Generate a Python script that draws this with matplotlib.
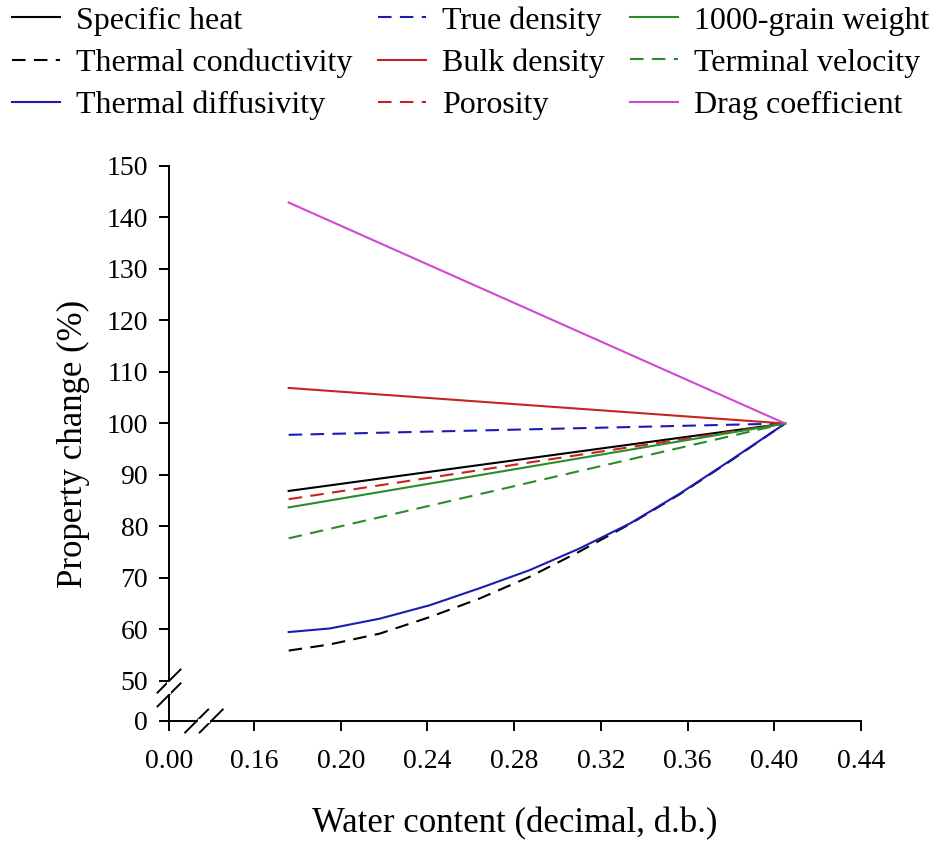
import numpy as np
import matplotlib
matplotlib.use("Agg")
import matplotlib.pyplot as plt

plt.rcParams['font.family'] = ['Liberation Serif', 'DejaVu Serif']

# Water content (decimal, d.b.) where the curves were read
x_ends = [0.176, 0.405]
x_curve = [0.176, 0.195, 0.218, 0.241, 0.264, 0.287, 0.310, 0.3335, 0.3565, 0.380, 0.405]

# Property change (%) values
specific_heat = [86.9, 100.0]
true_density = [97.8, 100.0]
bulk_density = [106.9, 100.0]
porosity = [85.3, 100.0]
grain_weight = [83.7, 100.0]
terminal_velocity = [77.7, 100.0]
drag_coefficient = [142.9, 100.0]
thermal_diffusivity = [59.5, 60.2, 62.1, 64.7, 68.0, 71.5, 75.7, 80.6, 86.4, 92.9, 100.0]
thermal_conductivity = [55.9, 57.1, 59.2, 62.4, 66.0, 70.2, 75.1, 80.5, 86.3, 92.8, 100.0]

x_ticks = [0.0, 0.16, 0.20, 0.24, 0.28, 0.32, 0.36, 0.40, 0.44]
x_labels = ['0.00', '0.16', '0.20', '0.24', '0.28', '0.32', '0.36', '0.40', '0.44']
y_ticks = [0, 50, 60, 70, 80, 90, 100, 110, 120, 130, 140, 150]

# broken axes: squeeze the empty ranges 0-50 and 0-0.16
ky = 7.77 / 50
kx = 0.0392 / 0.16


def fwd_y(y):
    y = np.asarray(y, dtype=float)
    return np.where(y >= 50, y, 50 - (50 - y) * ky)


def inv_y(t):
    t = np.asarray(t, dtype=float)
    return np.where(t >= 50, t, 50 - (50 - t) / ky)


def fwd_x(x):
    x = np.asarray(x, dtype=float)
    return np.where(x >= 0.16, x, 0.16 - (0.16 - x) * kx)


def inv_x(t):
    t = np.asarray(t, dtype=float)
    return np.where(t >= 0.16, t, 0.16 - (0.16 - t) / kx)


W, H = 939, 843
fig = plt.figure(figsize=(W / 100, H / 100), dpi=100)
ax = fig.add_axes([169 / W, 122 / H, (861 - 169) / W, (721 - 166) / H])
ax.set_xscale('function', functions=(fwd_x, inv_x))
ax.set_yscale('function', functions=(fwd_y, inv_y))

blue = '#1c1cb4'
red = '#c82222'
green = '#2b8c2b'
magenta = '#d048d0'
dash = (0, (6.5, 4))
lw = 1.5

ax.plot(x_ends, specific_heat, color='black', lw=lw, label='Specific heat')
ax.plot(x_curve, thermal_conductivity, color='black', lw=lw, ls=dash, label='Thermal conductivity')
ax.plot(x_curve, thermal_diffusivity, color=blue, lw=lw, label='Thermal diffusivity')
ax.plot(x_ends, true_density, color=blue, lw=lw, ls=dash, label='True density')
ax.plot(x_ends, bulk_density, color=red, lw=lw, label='Bulk density')
ax.plot(x_ends, porosity, color=red, lw=lw, ls=dash, label='Porosity')
ax.plot(x_ends, grain_weight, color=green, lw=lw, label='1000-grain weight')
ax.plot(x_ends, terminal_velocity, color=green, lw=lw, ls=dash, label='Terminal velocity')
ax.plot(x_ends, drag_coefficient, color=magenta, lw=lw, label='Drag coefficient')

ax.set_xlim(0, 0.44)
ax.set_ylim(0, 150)
ax.set_xticks(x_ticks, x_labels)
ax.set_yticks(y_ticks)
ax.minorticks_off()
for s in ['top', 'right']:
    ax.spines[s].set_visible(False)
for s in ['left', 'bottom']:
    ax.spines[s].set_linewidth(1.4)
ax.tick_params(direction='out', length=7, width=1.4, labelsize=20)
ax.tick_params(axis='x', pad=13)
ax.tick_params(axis='y', pad=8)

ax.set_xlabel('Water content (decimal, d.b.)', fontsize=25, labelpad=24)
ax.set_ylabel('Property change (%)', fontsize=25, labelpad=12)

# break marks
ax_w, ax_h = 692, 555
sx, sy = 11.5 / ax_w, 11.5 / ax_h
for yc in [0.072, 0.047]:
    ax.plot([-sx, sx], [yc - sy, yc + sy], transform=ax.transAxes,
            color='black', lw=1.4, clip_on=False)
ax.plot([0, 0], [0.052, 0.067], transform=ax.transAxes, color='white',
        lw=3, clip_on=False, zorder=3)
for xc in [0.040, 0.061]:
    ax.plot([xc - sx, xc + sx], [-sy, sy], transform=ax.transAxes,
            color='black', lw=1.4, clip_on=False)
ax.plot([0.045, 0.056], [0, 0], transform=ax.transAxes, color='white',
        lw=3, clip_on=False, zorder=3)

fig.legend(loc='upper left', bbox_to_anchor=(12 / W, 1 - 6 / H), ncol=3,
           frameon=False, fontsize=23, handlelength=1.5, handletextpad=0.5,
           columnspacing=0.8, labelspacing=0.4, borderpad=0, borderaxespad=0)

fig.savefig('out.png', dpi=100)
